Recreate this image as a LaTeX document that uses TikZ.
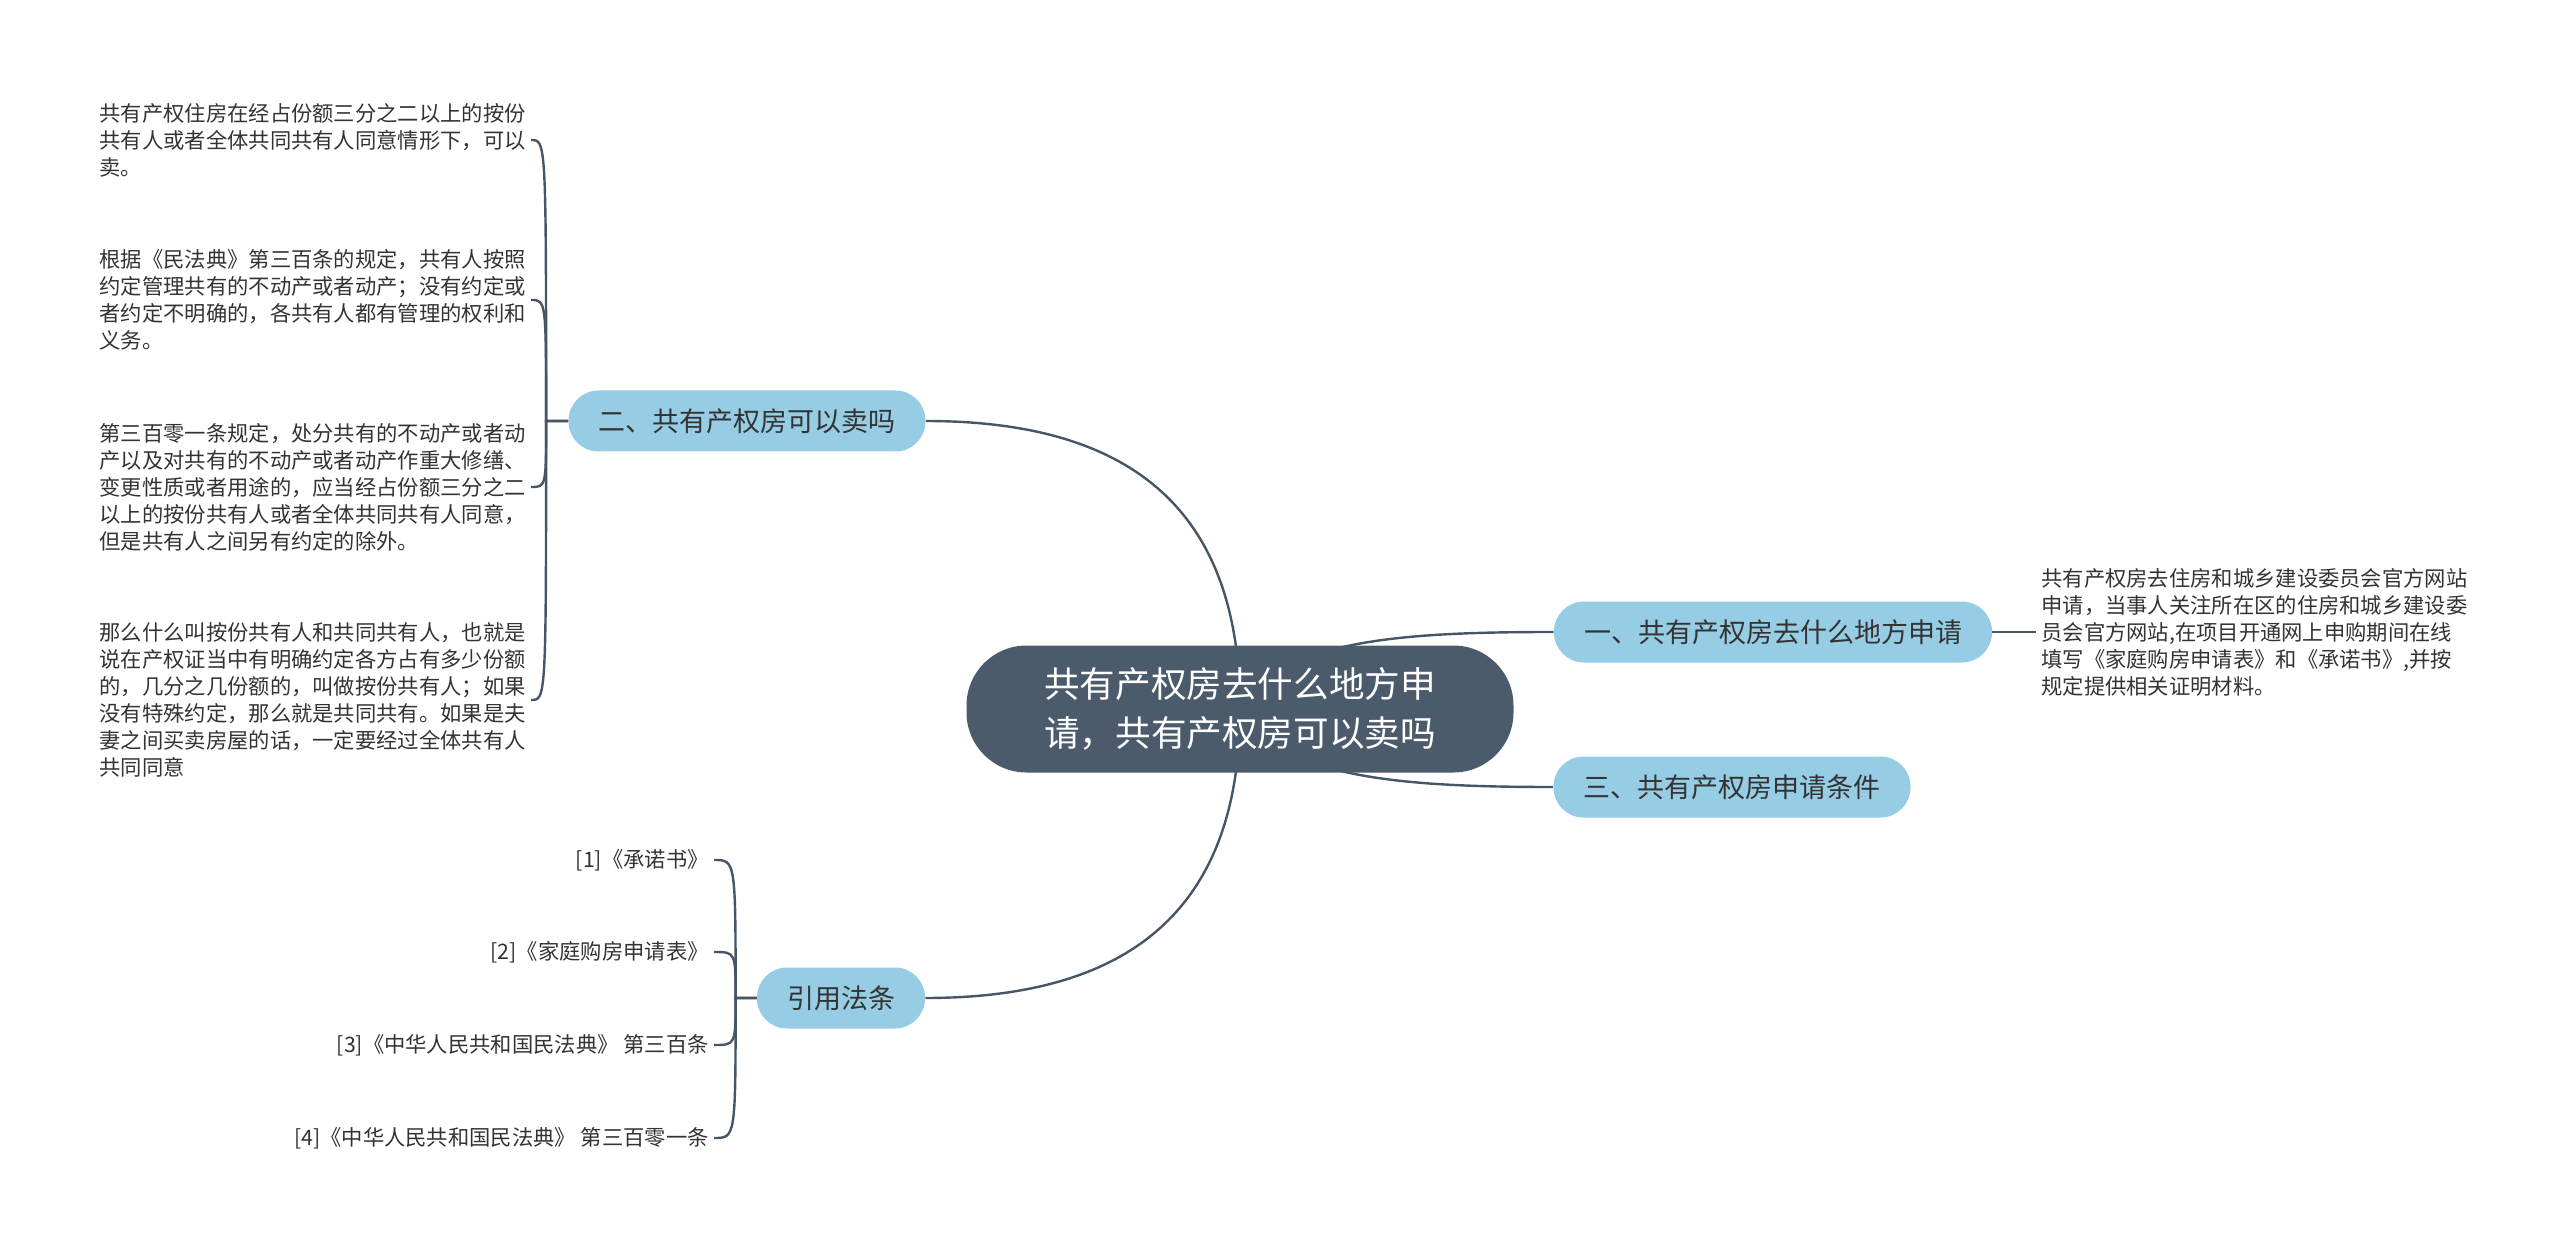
\documentclass[tikz,border=0pt]{standalone}
\usepackage{fontspec}
\setmainfont{Noto Sans CJK SC}
\usepackage{tikz}
\usetikzlibrary{positioning,calc,backgrounds}
\definecolor{slate}{RGB}{75,91,107}
\definecolor{skyblue}{RGB}{150,204,228}
\definecolor{linkgray}{RGB}{70,86,102}
\definecolor{inkgray}{RGB}{51,51,51}

\begin{document}
\begin{tikzpicture}[x=0.5pt, y=-0.5pt,
          root/.style={fill=slate, rounded corners=30pt,
                       minimum width=273.5pt, minimum height=63.5pt,
                       font=\fontsize{17.8pt}{24.5pt}\selectfont, text=white,
                       align=center, inner sep=0pt},
          topic/.style={fill=skyblue, rounded corners=15pt,
                        minimum height=30.5pt, inner xsep=15pt, inner ysep=0pt,
                        font=\fontsize{13.5pt}{16pt}\selectfont, text=inkgray},
          leaf/.style={font=\fontsize{10.65pt}{13.5pt}\selectfont, text=inkgray,
                       align=left, inner sep=2.5pt},
          cite/.style={leaf, align=right, anchor=east},
          link/.style={draw=linkgray, line width=1.2pt}
        ]
          \useasboundingbox (0,0) rectangle (2560,1251);
          \node[root] (root) at (1240,709) {共有产权房去什么地方申\\请，共有产权房可以卖吗};
          \node[topic] (where) at (1773,632) {一、共有产权房去什么地方申请};
          \node[topic] (cond) at (1732,787) {三、共有产权房申请条件};
          \node[topic] (sell) at (747,421) {二、共有产权房可以卖吗};
          \node[topic] (refs) at (841,998) {引用法条};
          \node[leaf, anchor=west] (w1) at (2036,632) {共有产权房去住房和城乡建设委员会官方网站\\申请，当事人关注所在区的住房和城乡建设委\\员会官方网站,在项目开通网上申购期间在线\\填写《家庭购房申请表》和《承诺书》,并按\\规定提供相关证明材料。};
          \node[leaf, anchor=east] (s1) at (531,140) {共有产权住房在经占份额三分之二以上的按份\\共有人或者全体共同共有人同意情形下，可以\\卖。};
          \node[leaf, anchor=east] (s2) at (531,300) {根据《民法典》第三百条的规定，共有人按照\\约定管理共有的不动产或者动产；没有约定或\\者约定不明确的，各共有人都有管理的权利和\\义务。};
          \node[leaf, anchor=east] (s3) at (531,487) {第三百零一条规定，处分共有的不动产或者动\\产以及对共有的不动产或者动产作重大修缮、\\变更性质或者用途的，应当经占份额三分之二\\以上的按份共有人或者全体共同共有人同意，\\但是共有人之间另有约定的除外。};
          \node[leaf, anchor=east] (s4) at (531,700) {那么什么叫按份共有人和共同共有人，也就是\\说在产权证当中有明确约定各方占有多少份额\\的，几分之几份额的，叫做按份共有人；如果\\没有特殊约定，那么就是共同共有。如果是夫\\妻之间买卖房屋的话，一定要经过全体共有人\\共同同意};
          \node[cite] (r1) at (714,860) {[1]《承诺书》};
          \node[cite] (r2) at (714,952) {[2]《家庭购房申请表》};
          \node[cite] (r3) at (714,1045) {[3]《中华人民共和国民法典》 第三百条};
          \node[cite] (r4) at (714,1138) {[4]《中华人民共和国民法典》 第三百零一条};
          \begin{scope}[on background layer]
            \draw[link] (root.center) .. controls (1240,500) and (1120,421) .. (sell.east);
            \draw[link] (root.center) .. controls (1240,918) and (1120,998) .. (refs.east);
            \draw[link] (root.center) .. controls (1280,640) and (1400,632) .. (where.west);
            \draw[link] (root.center) .. controls (1280,778) and (1400,787) .. (cond.west);
          \end{scope}
          \draw[link] (where.east) -- (w1.west);
          % brackets towards the leaves
          \coordinate (sb) at ($(sell.west)+(-22,0)$);
          \foreach \t in {s1,s2,s3,s4}
            \draw[link] (sell.west) -- (sb) .. controls (sb |- \t.east) and (sb |- \t.east) .. (\t.east);
          \coordinate (rb) at ($(refs.west)+(-21,0)$);
          \foreach \t in {r1,r2,r3,r4}
            \draw[link] (refs.west) -- (rb) .. controls (rb |- \t.east) and (rb |- \t.east) .. (\t.east);
        \end{tikzpicture}
\end{document}
